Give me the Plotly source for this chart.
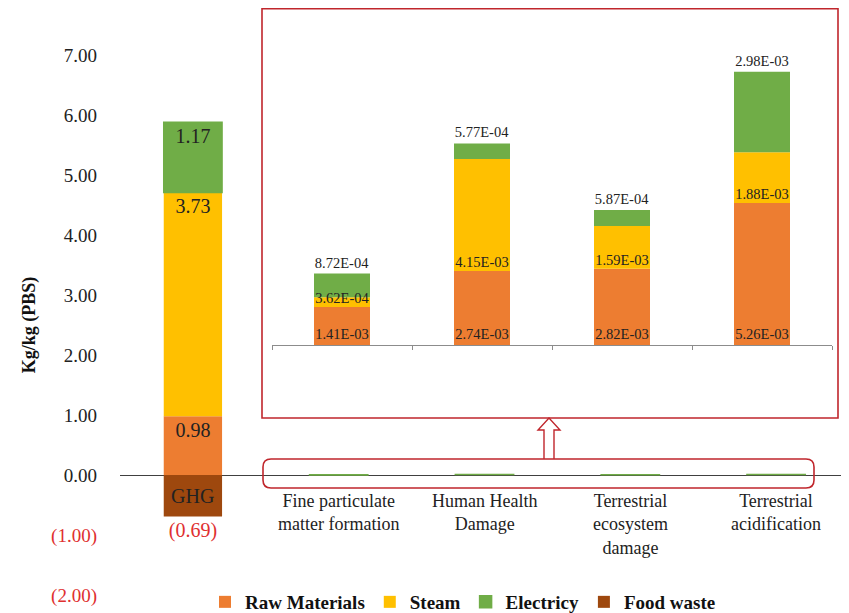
import plotly.graph_objects as go

categories = ["GHG", "Fine particulate matter formation", "Human Health Damage",
              "Terrestrial ecosystem damage", "Terrestrial acidification"]
category_labels = ["GHG", "Fine particulate<br>matter formation", "Human Health<br>Damage",
                   "Terrestrial<br>ecosystem<br>damage", "Terrestrial<br>acidification"]
raw_materials = [0.98, 1.41e-03, 2.74e-03, 2.82e-03, 5.26e-03]
steam = [3.73, 3.62e-04, 4.15e-03, 1.59e-03, 1.88e-03]
electricity = [1.17, 8.72e-04, 5.77e-04, 5.87e-04, 2.98e-03]
food_waste = [-0.69, -7.8e-06, -3.1e-05, -3.5e-05, -9.3e-06]
y_ticks = [-2, -1, 0, 1, 2, 3, 4, 5, 6, 7]

series = [("Raw Materials", raw_materials, "#ED7D31"),
          ("Steam", steam, "#FFC000"),
          ("Electricy", electricity, "#70AD47"),
          ("Food waste", food_waste, "#9E480E")]

W, H = 849, 613
OFF = 8  # page body margin offset
FONT = "Liberation Serif"
RED = "#E03030"
TXT = "#222222"


def px_x(p):
    return (p - OFF) / W


def px_y(p):
    return (H - (p - OFF)) / H


def fmt_main(v):
    return f"({abs(v):.2f})" if v < 0 else f"{v:.2f}"


fig = go.Figure()

# ---- main chart
for name, vals, col in series:
    txt = [fmt_main(vals[0])] + [None] * (len(vals) - 1)
    is_food = name == "Food waste"
    line = dict(width=1.5, color=col) if name == "Electricy" else dict(width=0)
    fig.add_trace(go.Bar(
        x=categories, y=vals, name=name, marker=dict(color=col, line=line),
        width=0.4, text=txt,
        textposition="outside" if is_food else "inside", textangle=0,
        insidetextanchor="end", constraintext="none", cliponaxis=False,
        textfont=dict(family=FONT, size=20, color=RED if is_food else TXT),
        insidetextfont=dict(family=FONT, size=20, color=TXT),
        outsidetextfont=dict(family=FONT, size=20, color=RED if is_food else TXT),
        xaxis="x", yaxis="y", hoverinfo="skip"))

# ---- inset chart (bars)
for name, vals, col in series:
    if name == "Raw Materials":
        txt = [f"{v:.2E}" for v in vals[1:]]
        pos = "inside"
    elif name == "Electricy":
        txt = [f"{v:.2E}" for v in vals[1:]]
        pos = "outside"
    elif name == "Food waste":
        txt = [f"{v:.1E}" for v in vals[1:]]
        pos = "outside"
    else:
        txt = None
        pos = "none"
    fig.add_trace(go.Bar(
        x=categories[1:], y=vals[1:], name=name, showlegend=False,
        marker=dict(color=col, line=dict(width=0)), width=0.4, text=txt,
        textposition=pos, insidetextanchor="start", constraintext="none",
        textangle=0, cliponaxis=False,
        textfont=dict(family=FONT, size=14.5, color=TXT),
        insidetextfont=dict(family=FONT, size=14.5, color=TXT),
        outsidetextfont=dict(family=FONT, size=14.5, color=TXT),
        xaxis="x2", yaxis="y2", hoverinfo="skip"))

# steam labels drawn above all bars, sitting on the base of the steam segment
fig.add_trace(go.Scatter(
    x=categories[1:], y=raw_materials[1:], mode="text",
    text=[f"{v:.2E}" for v in steam[1:]], textposition="top center",
    textfont=dict(family=FONT, size=14.5, color=TXT), showlegend=False,
    xaxis="x2", yaxis="y2", hoverinfo="skip", cliponaxis=False))

ticktext = [f"<span style='color:{RED}'>{fmt_main(v)}</span>" if v < 0 else fmt_main(v)
            for v in y_ticks]

annotations = []
for cat, lab in zip(categories[1:], category_labels[1:]):
    annotations.append(dict(x=cat, xref="x", y=px_y(489), yref="paper", yanchor="top",
                            text=lab, showarrow=False,
                            font=dict(family=FONT, size=18, color=TXT)))
annotations.append(dict(x=categories[0], xref="x", y=food_waste[0] / 2, yref="y",
                        text=category_labels[0], showarrow=False,
                        font=dict(family=FONT, size=20, color=TXT)))


def rounded_rect(x0, y0, x1, y1, r):
    rx, ry = r / W, r / H
    a, b, c, d = px_x(x0), px_y(y1), px_x(x1), px_y(y0)  # left, bottom, right, top
    return (f"M {a+rx},{d} L {c-rx},{d} Q {c},{d} {c},{d-ry} L {c},{b+ry} "
            f"Q {c},{b} {c-rx},{b} L {a+rx},{b} Q {a},{b} {a},{b+ry} "
            f"L {a},{d-ry} Q {a},{d} {a+rx},{d} Z")


arrow_pts = [(544, 459), (544, 430), (538, 430), (549, 418), (560, 430), (554, 430), (554, 459)]
arrow_path = "M " + " L ".join(f"{px_x(x)},{px_y(y)}" for x, y in arrow_pts)

shapes = [
    dict(type="rect", xref="paper", yref="paper", x0=px_x(262), x1=px_x(838),
         y0=px_y(418), y1=px_y(8.8), line=dict(color="#C0262C", width=1.6)),
    dict(type="path", xref="paper", yref="paper", path=rounded_rect(263, 459, 814, 488, 8),
         line=dict(color="#C0262C", width=1.6)),
    dict(type="path", xref="paper", yref="paper", path=arrow_path,
         line=dict(color="#C0262C", width=1.4)),
]

fig.update_layout(
    width=W, height=H, margin=dict(l=0, r=0, t=0, b=0, pad=0, autoexpand=False),
    paper_bgcolor="white", plot_bgcolor="white",
    barmode="relative",
    font=dict(family=FONT, color=TXT),
    xaxis=dict(domain=[px_x(120), 1.0], range=[-0.5, 4.5 + 8 / 146], showticklabels=False,
               showgrid=False, showline=False, zeroline=False, ticks="", automargin=False),
    yaxis=dict(domain=[px_y(595), px_y(55)], range=[-2, 7], tickvals=y_ticks,
               ticktext=ticktext, showgrid=False, showline=False, zeroline=True,
               zerolinecolor="#404040", zerolinewidth=1.3, ticks="",
               ticklabelstandoff=22, automargin=False,
               tickfont=dict(family=FONT, size=19, color=TXT),
               title=dict(text="Kg/kg (PBS)", standoff=10,
                          font=dict(family=FONT, size=18, color="#111111", weight="bold"))),
    xaxis2=dict(domain=[px_x(272), px_x(832)], range=[-0.5, 3.5], anchor="y2",
                showticklabels=False, showgrid=False, showline=True, linecolor="#8c8c8c",
                linewidth=1.2, ticks="outside", tickson="boundaries", ticklen=4,
                tickcolor="#8c8c8c", zeroline=False, automargin=False),
    yaxis2=dict(domain=[px_y(345), px_y(10)], range=[0, 0.012407], anchor="x2",
                visible=False, showgrid=False, zeroline=False, automargin=False),
    legend=dict(orientation="h", x=px_x(205), y=px_y(602), xanchor="left", yanchor="middle",
                font=dict(family=FONT, size=19, color="#111111", weight="bold"),
                itemwidth=30, bgcolor="rgba(0,0,0,0)", traceorder="normal"),
    annotations=annotations, shapes=shapes,
)

fig.write_html("out.html")
